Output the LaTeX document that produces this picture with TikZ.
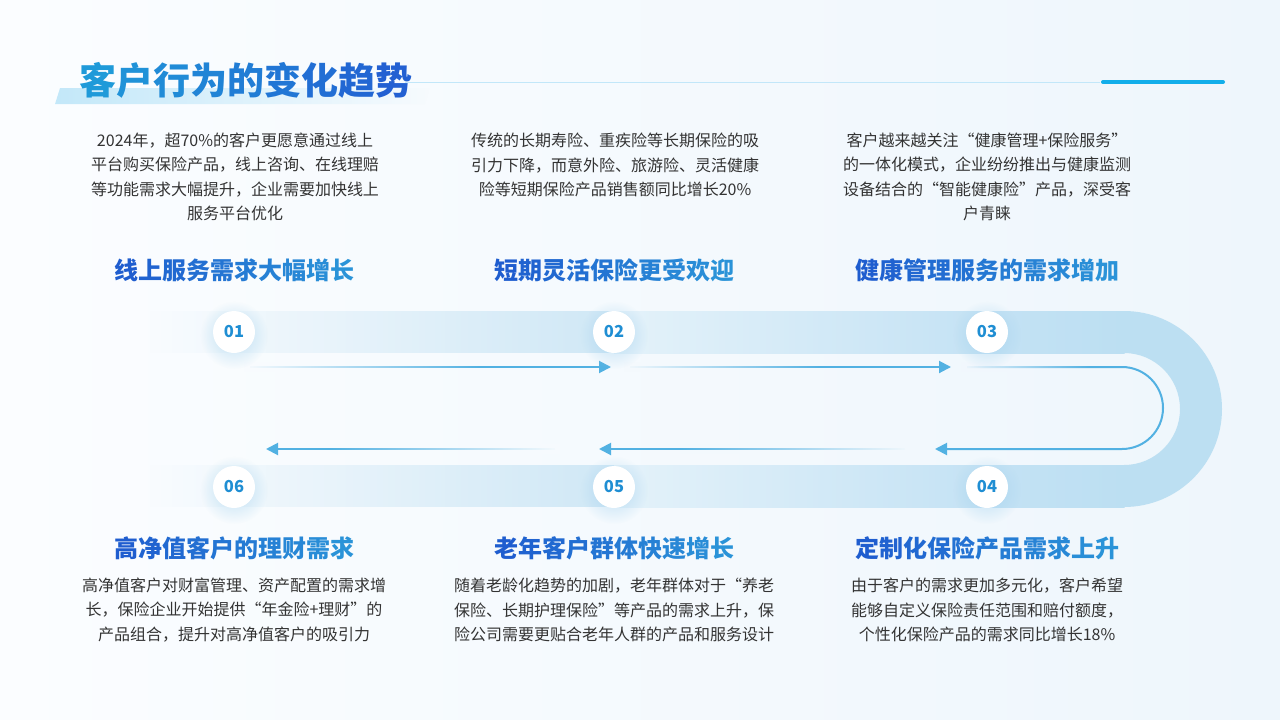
\documentclass[tikz,border=0pt]{standalone}
\usepackage{fontspec}
\setmainfont{Noto Sans CJK SC}
\usetikzlibrary{arrows.meta,fadings}
\definecolor{bgL}{HTML}{FBFDFF}
\definecolor{bgR}{HTML}{EEF6FC}
\definecolor{titA}{HTML}{1F9AD9}
\definecolor{titB}{HTML}{2360D2}
\definecolor{hA}{HTML}{1F5DCF}
\definecolor{hB}{HTML}{2A93D8}
\definecolor{bodyc}{HTML}{333333}
\definecolor{numblue}{HTML}{1F8ED3}
\definecolor{arrowc}{HTML}{52B1E2}
\definecolor{bandA}{HTML}{D0E8F6}
\definecolor{bandB}{HTML}{E4F2FA}
\definecolor{bandC}{HTML}{C4E2F4}
\definecolor{bandD}{HTML}{BCDFF2}
\definecolor{ulc}{HTML}{C3E8F9}
\definecolor{thinc}{HTML}{C2E7F9}
\definecolor{barc}{HTML}{12AEEA}
\definecolor{glowc}{HTML}{9FD0EE}
\tikzfading[name=fadeL, left color=transparent!100, right color=transparent!0]
\tikzfading[name=fadeR, left color=transparent!0, right color=transparent!100]
\tikzfading[name=glowfade, inner color=transparent!35, outer color=transparent!100]
\makeatletter
\newcount\gr@n \newcount\gr@i \newcount\gr@p
\newcommand\gradchars[3]{%
  \gr@n=0 \@tfor\gr@c:=#3\do{\advance\gr@n by 1 }%
  \gr@i=0
  \@tfor\gr@c:=#3\do{%
    \gr@p=\numexpr 100-(100*\gr@i)/(\gr@n-1)\relax
    \textcolor{#1!\the\gr@p!#2}{\gr@c}%
    \advance\gr@i by 1 }%
}
\makeatother
\tikzset{
  numc/.style={circle, fill=white, minimum size=42pt, inner sep=0pt,
    font=\bfseries\fontsize{16.5}{16.5}\selectfont, text=numblue},
  body/.style={align=center, inner sep=0pt, text=bodyc,
    font=\fontsize{16}{24.5}\selectfont},
  head/.style={inner sep=0pt, font=\bfseries\fontsize{24}{28}\selectfont},
  flow/.style={draw=arrowc, line width=2pt, -{Triangle[length=12pt,width=12pt]}},
  glow/.style={fill=glowc, path fading=glowfade}
}
\begin{document}
\begin{tikzpicture}[x=1pt,y=-1pt]
\useasboundingbox (0,0) rectangle (1280,720);
\shade[left color=bgL, right color=bgR] (0,0) rectangle (1280,720);

% title
\fill[ulc, path fading=fadeR] (60,88) -- (430,88) -- (425,104) -- (55,104) -- cycle;
\draw[thinc, line width=1pt] (405,82) -- (1100,82);
\draw[barc, line width=4pt, line cap=round] (1103,82) -- (1223,82);
\node[anchor=west, inner sep=0pt, font=\bfseries\fontsize{37}{40}\selectfont] (title) at (79,80)
  {\gradchars{titA}{titB}{客户行为的变化趋势}};

% band
\fill[bandA, path fading=fadeL] (150,311) rectangle (614,353);
\shade[left color=bandB, right color=bandC] (614,311) rectangle (987,353);
\shade[left color=bandC, right color=bandD] (987,311) rectangle (1124.5,353);
\fill[bandA, path fading=fadeL] (150,465) rectangle (614,507);
\shade[left color=bandB, right color=bandC] (614,465) rectangle (987,507);
\shade[left color=bandC, right color=bandD] (987,465) rectangle (1124.5,507);
\fill[bandD] (1124,311) arc[start angle=-90, end angle=90, radius=98]
  -- (1124,465) arc[start angle=90, end angle=-90, radius=56] -- cycle;

% arrow coordinates
\coordinate (a1s) at (250,367);
\coordinate (a1e) at (611,367);
\coordinate (a2s) at (630,367);
\coordinate (a2e) at (951,367);
\coordinate (a3s) at (967,367);
\coordinate (a3m) at (1122,367);
\coordinate (a3e) at (935,449);
\coordinate (a4s) at (905,449);
\coordinate (a4e) at (599,449);
\coordinate (a5s) at (555,449);
\coordinate (a5e) at (266,449);

\draw[flow] (a1s) -- (a1e);
\draw[flow] (a2s) -- (a2e);
\draw[flow] (a3s) -- (a3m) arc[start angle=-90, end angle=90, radius=41] -- (a3e);
\draw[flow] (a4s) -- (a4e);
\draw[flow] (a5s) -- (a5e);

% fade masks on the arrow lines
\fill[bgR!22!bgL, path fading=fadeR] (244,362) rectangle (480,372);
\fill[bgR!56!bgL, path fading=fadeR] (624,362) rectangle (820,372);
\fill[bgR!80!bgL, path fading=fadeR] (961,362) rectangle (1090,372);
\fill[bgR!62!bgL, path fading=fadeL] (680,444) rectangle (910,454);
\fill[bgR!34!bgL, path fading=fadeL] (330,444) rectangle (560,454);

% circles
\foreach \x/\y in {234/332,614/332,987/332,987/487,614/487,234/487}
  \fill[glow] (\x,\y+3) circle[radius=34];
\node[numc] (c1) at (234,332) {01};
\node[numc] (c2) at (614,332) {02};
\node[numc] (c3) at (987,332) {03};
\node[numc] (c4) at (987,487) {04};
\node[numc] (c5) at (614,487) {05};
\node[numc] (c6) at (234,487) {06};

% headings
\node[head] (h1) at (234,270) {\gradchars{hA}{hB}{线上服务需求大幅增长}};
\node[head] (h2) at (614,270) {\gradchars{hA}{hB}{短期灵活保险更受欢迎}};
\node[head] (h3) at (987,270) {\gradchars{hA}{hB}{健康管理服务的需求增加}};
\node[head] (h6) at (234,548) {\gradchars{hA}{hB}{高净值客户的理财需求}};
\node[head] (h5) at (614,548) {\gradchars{hA}{hB}{老年客户群体快速增长}};
\node[head] (h4) at (987,548) {\gradchars{hA}{hB}{定制化保险产品需求上升}};

% body texts
\node[body] (t1) at (235,177) {2024年，超70\%的客户更愿意通过线上\\平台购买保险产品，线上咨询、在线理赔\\等功能需求大幅提升，企业需要加快线上\\服务平台优化};
\node[body] (t2) at (615,165) {传统的长期寿险、重疾险等长期保险的吸\\引力下降，而意外险、旅游险、灵活健康\\险等短期保险产品销售额同比增长20\%};
\node[body] (t3) at (987,177) {客户越来越关注“健康管理+保险服务”\\的一体化模式，企业纷纷推出与健康监测\\设备结合的“智能健康险”产品，深受客\\户青睐};
\node[body] (t6) at (234,610) {高净值客户对财富管理、资产配置的需求增\\长，保险企业开始提供“年金险+理财”的\\产品组合，提升对高净值客户的吸引力};
\node[body] (t5) at (614,610) {随着老龄化趋势的加剧，老年群体对于“养老\\保险、长期护理保险”等产品的需求上升，保\\险公司需要更贴合老年人群的产品和服务设计};
\node[body] (t4) at (987,610) {由于客户的需求更加多元化，客户希望\\能够自定义保险责任范围和赔付额度，\\个性化保险产品的需求同比增长18\%};
\end{tikzpicture}
\end{document}
